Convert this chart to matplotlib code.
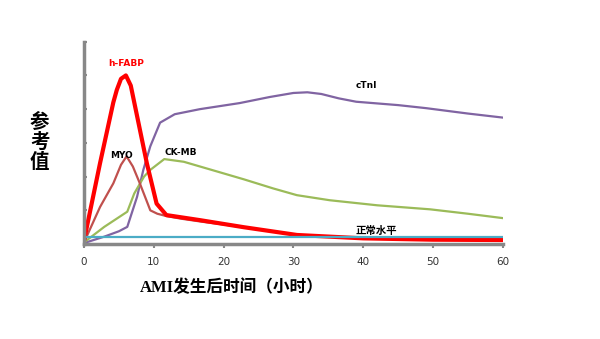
import matplotlib
matplotlib.use("Agg")
import matplotlib.pyplot as plt

# hours after AMI onset vs. relative marker level (no y scale in the source)
hfabp_x = [0, 2.3, 4.2, 4.7, 5.3, 6.0, 6.7, 7.5, 9.0, 10.4, 11.8, 16.6, 22.9, 30.5, 40, 50, 60]
hfabp_y = [0.1, 2.4, 4.2, 4.57, 4.9, 5.0, 4.7, 3.9, 2.4, 1.2, 0.86, 0.71, 0.5, 0.27, 0.17, 0.13, 0.12]

myo_x = [0, 2.3, 4.2, 5.3, 6.1, 7.0, 8.0, 9.5, 10.5, 11.8, 14, 17, 20, 25, 30.5, 40, 50, 60]
myo_y = [0.05, 1.1, 1.8, 2.35, 2.6, 2.3, 1.8, 1.0, 0.9, 0.83, 0.75, 0.66, 0.58, 0.44, 0.27, 0.17, 0.13, 0.12]

ckmb_x = [0, 2.9, 6.2, 7.2, 8.6, 9.5, 11.5, 14.3, 19.1, 22.9, 27.1, 30.5, 35.2, 42, 49.6, 55, 60]
ckmb_y = [0.05, 0.51, 0.96, 1.5, 2.0, 2.2, 2.52, 2.44, 2.15, 1.92, 1.65, 1.45, 1.3, 1.15, 1.03, 0.9, 0.77]

ctni_x = [0, 2.9, 5.0, 6.2, 7.6, 8.5, 9.5, 10.9, 13, 16.6, 22.3, 26.6, 30, 32, 34, 36.5, 39, 45, 49, 55, 60]
ctni_y = [0.03, 0.22, 0.38, 0.51, 1.4, 2.2, 2.9, 3.6, 3.85, 4.0, 4.18, 4.36, 4.48, 4.5, 4.45, 4.32, 4.22, 4.12, 4.03, 3.87, 3.75]

normal_x = [0, 60]
normal_y = [0.22, 0.22]

xticks = [0, 10, 20, 30, 40, 50, 60]

plt.rcParams['font.family'] = ['DejaVu Sans', 'Noto Sans CJK SC']

fig = plt.figure(figsize=(6, 3.39), dpi=100)
ax = fig.add_axes([0.14, 0.28, 0.698, 0.597])

ax.plot(ctni_x, ctni_y, color="#8064A2", lw=1.6)
ax.plot(ckmb_x, ckmb_y, color="#9BBB59", lw=1.6)
ax.plot(myo_x, myo_y, color="#C0504D", lw=1.6)
ax.plot(hfabp_x, hfabp_y, color="#FF0000", lw=3.0)
ax.plot(normal_x, normal_y, color="#4BACC6", lw=1.6)

ax.text(6.1, 5.36, "h-FABP", color="#FF0000", fontsize=6.5, fontweight="bold", ha="center", va="center")
ax.text(5.4, 2.62, "MYO", color="black", fontsize=6.5, fontweight="bold", ha="center", va="center")
ax.text(13.8, 2.72, "CK-MB", color="black", fontsize=6.5, fontweight="bold", ha="center", va="center")
ax.text(40.5, 4.69, "cTnI", color="black", fontsize=6.5, fontweight="bold", ha="center", va="center")
ax.text(41.9, 0.39, "正常水平", color="black", fontsize=7.5, fontweight="bold", ha="center", va="center",
        family=['Noto Sans CJK SC'])

ax.set_xlim(0, 60)
ax.set_ylim(0, 6)
ax.set_xticks(xticks)
ax.set_yticks(range(7))
ax.set_yticklabels([])
for s in ["top", "right"]:
    ax.spines[s].set_visible(False)
for s in ["left", "bottom"]:
    ax.spines[s].set_color("#888888")
    ax.spines[s].set_linewidth(2.5)
ax.tick_params(axis="x", colors="#888888", length=3, width=1.5, labelsize=7.5, labelcolor="#333333", pad=6)
ax.tick_params(axis="y", colors="#888888", length=2, width=1.5, direction="in")

fig.text(0.386, 0.151, "AMI发生后时间（小时）", fontsize=12, fontweight="bold", ha="center", va="center",
         family=['Liberation Serif', 'Noto Sans CJK SC'])
fig.text(0.066, 0.58, "参\n考\n值", fontsize=14, fontweight="bold", ha="center", va="center",
         linespacing=1.05, family=['Noto Sans CJK SC'])

fig.savefig("out.png", dpi=100)
